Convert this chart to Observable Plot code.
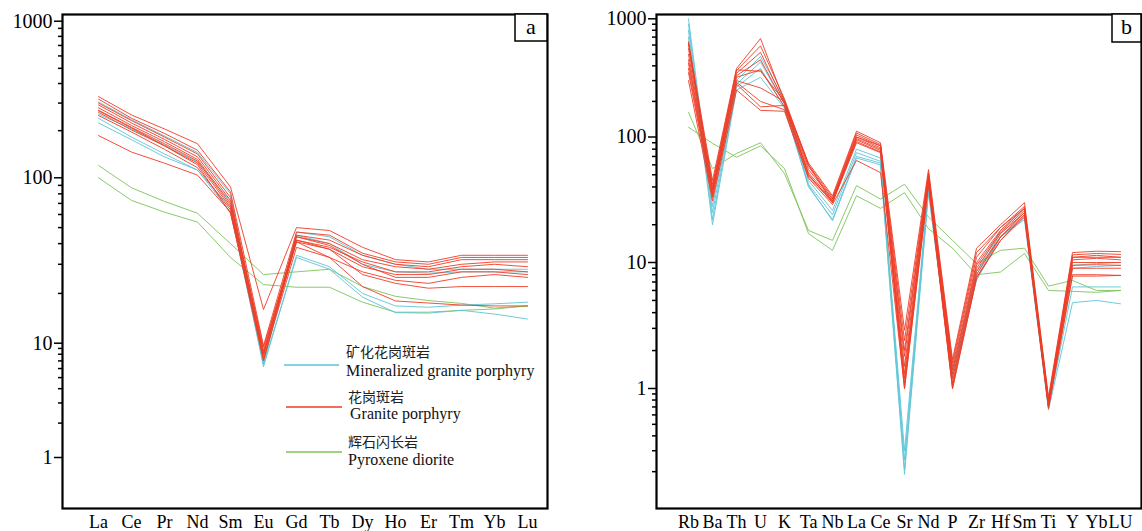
<!DOCTYPE html>
<html><head><meta charset="utf-8">
<script src="https://cdn.jsdelivr.net/npm/d3@7"></script>
<script src="https://cdn.jsdelivr.net/npm/@observablehq/plot@0.6"></script>
<style>
body{margin:0;background:#fff;}
#wrap{position:relative;width:1142px;height:531px;overflow:hidden;font-family:"Liberation Serif","Times New Roman",serif;background:#fff;}
#pa,#pb{position:absolute;top:0;}
#pa{left:0}#pb{left:571px}
#ov{position:absolute;left:0;top:0;}
</style></head><body>
<div id="wrap"><div id="pa"></div><div id="pb"></div><svg id="ov" width="1142" height="531"></svg></div>
<script>
// ---------- Panel a: REE ----------
const reeElements = ["La","Ce","Pr","Nd","Sm","Eu","Gd","Tb","Dy","Ho","Er","Tm","Yb","Lu"];
const reeMineralized = [
  [305, 235, 185, 145, 80, 6.5, 47, 44, 34, 30, 28, 28, 28, 28],
  [255, 205, 162, 126, 72, 7.0, 45, 40, 30, 27, 26.5, 27, 27, 27],
  [240, 182, 142, 112, 66, 6.2, 34, 29, 20, 16.8, 16.5, 17, 17.3, 17.7],
  [224, 175, 136, 112, 62, 6.6, 33, 28, 19, 15.3, 15.2, 15.8, 15, 14]
];
const reeGranite = [
  [330, 252, 205, 165, 88, 16, 50, 48, 38, 32, 31, 34, 34, 34],
  [318, 240, 192, 150, 82, 9.5, 47, 45, 35, 31, 30, 33, 33, 33],
  [300, 232, 182, 142, 76, 8.6, 45, 42, 34, 30, 29, 32, 32, 32],
  [292, 224, 176, 136, 73, 8.2, 44, 40, 32, 29, 28, 30, 31, 31],
  [280, 216, 170, 131, 70, 9.2, 42, 38, 31, 27, 27, 29, 30, 29],
  [270, 210, 165, 128, 68, 8.0, 41, 37, 29, 26, 26, 28, 28, 27],
  [262, 202, 160, 124, 66, 7.6, 44, 39, 30, 25, 25, 27, 27, 26],
  [250, 196, 152, 116, 64, 7.2, 38, 33, 27, 24, 23, 25, 26, 25],
  [186, 146, 124, 104, 62, 7.0, 42, 37, 26, 23, 21.5, 22, 22, 22],
  [268, 208, 160, 121, 61, 8.0, 41, 33, 22, 18, 17.5, 17, 16.8, 16.8]
];
const reeDiorite = [
  [120, 87, 72, 61, 40, 26, 27, 28, 22, 19.2, 18.1, 17.4, 16.3, 16.8],
  [100, 73, 62, 54, 33, 22.6, 21.8, 21.8, 17.7, 15.4, 15.4, 15.8, 16.1, 16.8]
];
const yTicksA = [1, 10, 100, 1000];
const yMinorA = [2,3,4,5,6,7,8,9,20,30,40,50,60,70,80,90,200,300,400,500,600,700,800,900];

// ---------- Panel b: trace elements ----------
const spiderElements = ["Rb","Ba","Th","U","K","Ta","Nb","La","Ce","Sr","Nd","P","Zr","Hf","Sm","Ti","Y","Yb","LU"];
const spiderMineralized = [
  [1000, 28, 300, 480, 205, 45, 26, 80, 68, 0.30, 42, 1.4, 8.5, 18, 27, 0.72, 9.5, 9.8, 10],
  [900, 25, 280, 430, 190, 42, 24, 75, 64, 0.25, 40, 1.3, 8.0, 17, 25, 0.70, 9.0, 9.3, 9.5],
  [800, 22, 265, 380, 180, 40, 22, 70, 62, 0.21, 38, 1.2, 7.5, 16, 23, 0.68, 6.4, 6.4, 6.4],
  [700, 20, 250, 320, 175, 41, 21.5, 68, 60, 0.19, 36, 1.2, 7.2, 16, 22, 0.66, 4.8, 5.0, 4.7]
];
const spiderGranite = [
  [640, 45, 380, 680, 200, 62, 34, 112, 90, 2.9, 55, 1.7, 13, 20, 30, 0.85, 12, 12.3, 12.2],
  [610, 42, 365, 590, 210, 60, 33, 108, 87, 2.4, 52, 1.5, 11, 19, 28, 0.80, 11.5, 11.8, 11.6],
  [560, 40, 345, 520, 195, 58, 32, 104, 85, 1.8, 50, 1.4, 10, 18, 27, 0.78, 11, 11.4, 11],
  [500, 38, 330, 450, 190, 55, 32, 100, 82, 1.5, 48, 1.3, 9.5, 17.5, 26, 0.76, 10.5, 10.8, 10.5],
  [450, 36, 320, 370, 180, 52, 31, 97, 80, 1.3, 47, 1.2, 9.0, 17, 25, 0.75, 10, 10, 10],
  [420, 35, 300, 260, 200, 50, 30, 95, 78, 1.2, 45, 1.1, 8.5, 16, 25, 0.72, 9.5, 9.6, 9.5],
  [380, 34, 290, 200, 170, 48, 31, 92, 76, 1.1, 44, 1.05, 8.0, 16, 24, 0.70, 9.0, 9.0, 9.0],
  [350, 33, 280, 180, 185, 50, 30, 90, 75, 1.0, 43, 1.0, 7.5, 15, 24, 0.70, 8.0, 8.0, 7.9],
  [300, 31, 250, 168, 165, 47, 29, 65, 52, 1.0, 41, 1.0, 7.6, 15, 23, 0.68, 7.8, 7.8, 7.9],
  [620, 38, 370, 360, 200, 60, 30, 100, 85, 2.0, 50, 1.6, 12, 19, 27, 0.80, 11, 11, 11]
];
const spiderDiorite = [
  [162, 56, 74, 90, 51, 18, 15, 41, 32, 42, 23, 15, 9.8, 12.5, 13, 6.5, 7.2, 6.0, 6.0],
  [121, 89, 69, 85, 56, 17, 12.5, 34, 27, 36, 18.6, 13, 8.0, 8.4, 11.8, 6.0, 5.9, 5.8, 6.0]
];
const yTicksB = [1, 10, 100, 1000];
const yMinorB = [0.2,0.3,0.4,0.5,0.6,0.7,0.8,0.9,2,3,4,5,6,7,8,9,20,30,40,50,60,70,80,90,200,300,400,500,600,700,800,900];

// ---------- Legend ----------
const legendZh = ["矿化花岗斑岩", "花岗斑岩", "辉石闪长岩"];
const legendEn = ["Mineralized granite porphyry", "Granite porphyry", "Pyroxene diorite"];
const groupColors = ["#5ec4d6", "#ee3d27", "#7cc45a"];

function tidy(elements, series, group) {
  const rows = [];
  series.forEach((vals, i) => vals.forEach((v, j) => rows.push({el: elements[j], v, sample: group + i})));
  return rows;
}

const FONT = "'Liberation Serif','Times New Roman',serif";

function panel({elements, groups, xRange, yDomain, yRange, ticks, minor, marginLeft, marginRight}) {
  const lineMarks = [];
  const order = [2, 0, 1];
  for (const gi of order) {
    lineMarks.push(Plot.line(tidy(elements, groups[gi], "g" + gi), {
      x: "el", y: "v", z: "sample", stroke: groupColors[gi], strokeWidth: 1, strokeOpacity: 0.9, curve: "linear"
    }));
  }
  return Plot.plot({
    width: 571, height: 531,
    marginLeft, marginRight, marginTop: 14, marginBottom: 23,
    style: {fontFamily: FONT, background: "transparent", color: "#000", overflow: "visible"},
    x: {type: "point", domain: elements, range: xRange, padding: 0, label: null, axis: null},
    y: {type: "log", domain: yDomain, range: yRange, label: null, axis: null},
    marks: [
      ...lineMarks,
      Plot.axisY(minor, {tickSize: 4, tickFormat: () => "", strokeWidth: 1.5, label: null}),
      Plot.axisY(ticks, {tickSize: 8, tickPadding: 2, fontSize: 20, tickFormat: d => String(d), strokeWidth: 1.5, label: null}),
      Plot.axisX({tickSize: 0, tickPadding: 7, fontSize: 18, label: null}),
      Plot.frame({stroke: "#000", strokeWidth: 2.2})
    ]
  });
}

document.getElementById("pa").append(panel({
  elements: reeElements,
  groups: [reeMineralized, reeGranite, reeDiorite],
  xRange: [96, 528],
  yDomain: [1, 10, 100, 1000],
  yRange: [457, 342.7, 177.3, 20.7],
  ticks: yTicksA, minor: yMinorA,
  marginLeft: 62, marginRight: 24
}));

document.getElementById("pb").append(panel({
  elements: spiderElements,
  groups: [spiderMineralized, spiderGranite, spiderDiorite],
  xRange: [111, 555],
  yDomain: [0.1, 1, 10, 100, 1000],
  yRange: [507, 388, 262, 136.5, 18.3],
  ticks: yTicksB, minor: yMinorB,
  marginLeft: 85, marginRight: 1
}));

const ov = d3.select("#ov");
const legendRows = [
  {x1: 284, x2: 339, y: 365, zhX: 346, zhY: 353, enX: 346, enY: 372},
  {x1: 286, x2: 342, y: 407, zhX: 348, zhY: 398, enX: 350, enY: 415},
  {x1: 286, x2: 342, y: 452, zhX: 348, zhY: 443, enX: 348, enY: 461}
];
legendRows.forEach((r, i) => {
  ov.append("line").attr("x1", r.x1).attr("x2", r.x2).attr("y1", r.y).attr("y2", r.y)
    .attr("stroke", groupColors[i]).attr("stroke-width", 1.5);
  ov.append("text").attr("x", r.zhX).attr("y", r.zhY).attr("dominant-baseline", "middle")
    .attr("font-family", "'Noto Sans CJK SC',sans-serif").attr("font-size", 14).attr("fill", "#222").text(legendZh[i]);
  ov.append("text").attr("x", r.enX).attr("y", r.enY).attr("dominant-baseline", "middle")
    .attr("font-family", FONT).attr("font-size", 16).attr("fill", "#111").text(legendEn[i]);
});
const boxes = [{x: 515, y: 14, w: 32, h: 27, t: "a"}, {x: 1112, y: 14, w: 29, h: 28, t: "b"}];
boxes.forEach(b => {
  ov.append("rect").attr("x", b.x).attr("y", b.y).attr("width", b.w).attr("height", b.h)
    .attr("fill", "#fff").attr("stroke", "#000").attr("stroke-width", 1.5);
  ov.append("text").attr("x", b.x + b.w / 2).attr("y", b.y + b.h / 2 + 1).attr("text-anchor", "middle")
    .attr("dominant-baseline", "middle").attr("font-family", FONT).attr("font-size", 22).text(b.t);
});
</script>
</body></html>
